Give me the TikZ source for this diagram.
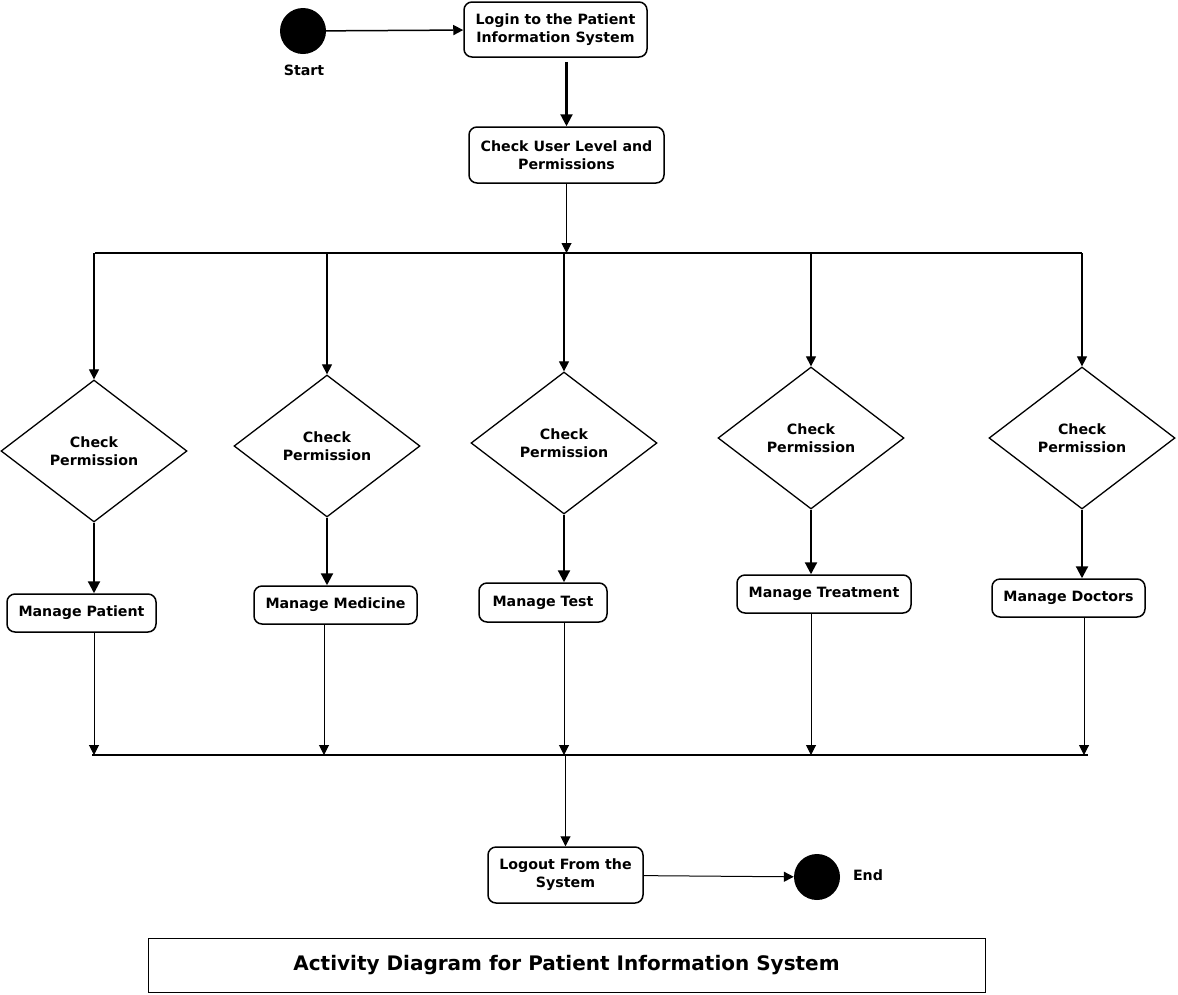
\documentclass[tikz,border=0pt]{standalone}
\usepackage{fontspec}
\setmainfont{DejaVu Sans}
\usetikzlibrary{shapes.geometric,arrows.meta}
\begin{document}
\begin{tikzpicture}[x=1pt,y=-1pt,
  every node/.style={font=\fontsize{14.2}{18}\selectfont\bfseries},
  act/.style={draw, rounded corners=8pt, line width=1.5pt, align=center, inner sep=0pt},
  dec/.style={draw, diamond, line width=1.3pt, align=center, inner sep=0pt,
    minimum width=186pt, minimum height=142pt},
  dot/.style={circle, fill=black, minimum size=46pt, inner sep=0pt},
  thinarr/.style={line width=1pt, -{Triangle[length=10pt,width=10pt]}},
  thickarr/.style={line width=2.2pt, -{Triangle[length=12pt,width=12pt]}},
  barline/.style={line width=2pt}
]
\useasboundingbox (0,0) rectangle (1178,994);
\fill[white] (0,0) rectangle (1178,994);

% start and first activities
\node[dot] (start) at (303,31) {};
\node (startlbl) at (304,70) {Start};
\node[act, minimum width=183pt, minimum height=55pt] (login) at (555.5,29.5) {Login to the Patient\\Information System};
\node[act, minimum width=195pt, minimum height=56pt] (check) at (566.5,155) {Check User Level and\\Permissions};

\draw[thinarr, line width=1.5pt] (start) -- (login);
\draw[thickarr] ([yshift=-4pt]check.north |- login.south) -- (check.north);

% fork bar
\coordinate (forkL) at (95,253);
\coordinate (forkR) at (1082,253);
\coordinate (forkC) at (566.5,253);
\draw[barline] (forkL) -- (forkR);
\draw[thinarr] (check) -- (forkC);

% decisions
\node[dec] (d1) at (94,451) {Check\\Permission};
\node[dec] (d2) at (327,446) {Check\\Permission};
\node[dec] (d3) at (564,443) {Check\\Permission};
\node[dec] (d4) at (811,438) {Check\\Permission};
\node[dec] (d5) at (1082,438) {Check\\Permission};

\foreach \d in {d1,d2,d3,d4,d5}{
  \draw[thinarr, line width=1.2pt] (\d.north |- forkL) -- (\d.north);
}

% manage activities
\node[act, minimum width=149pt, minimum height=38pt] (m1) at (81.5,613) {Manage Patient};
\node[act, minimum width=163pt, minimum height=38pt] (m2) at (335.5,605) {Manage Medicine};
\node[act, minimum width=128pt, minimum height=39pt] (m3) at (543,602.5) {Manage Test};
\node[act, minimum width=174pt, minimum height=38pt] (m4) at (824,594) {Manage Treatment};
\node[act, minimum width=153pt, minimum height=38pt] (m5) at (1068.5,598) {Manage Doctors};

\draw[thickarr] (d1.south) -- (d1.south |- m1.north);
\draw[thickarr] (d2.south) -- (d2.south |- m2.north);
\draw[thickarr] (d3.south) -- (d3.south |- m3.north);
\draw[thickarr] (d4.south) -- (d4.south |- m4.north);
\draw[thickarr] (d5.south) -- (d5.south |- m5.north);

% join bar
\coordinate (joinL) at (92,755);
\coordinate (joinR) at (1088,755);
\coordinate (joinC) at (565.5,755);
\coordinate (j1) at (94,755);
\coordinate (j2) at (324,755);
\coordinate (j3) at (564,755);
\coordinate (j4) at (811,755);
\coordinate (j5) at (1084,755);
\draw[barline] (joinL) -- (joinR);

\draw[thinarr] (j1 |- m1.south) -- (j1);
\draw[thinarr] (j2 |- m2.south) -- (j2);
\draw[thinarr] (j3 |- m3.south) -- (j3);
\draw[thinarr] (j4 |- m4.south) -- (j4);
\draw[thinarr] (j5 |- m5.south) -- (j5);

% logout and end
\node[act, minimum width=155pt, minimum height=56pt] (logout) at (565.5,875) {Logout From the\\System};
\draw[thinarr] (joinC) -- (logout);
\node[dot] (end) at (817,877) {};
\node (endlbl) at (868,875) {End};
\draw[thinarr] (logout) -- (end);

% title
\node[draw, line width=1pt, minimum width=837pt, minimum height=54pt, inner sep=0pt,
  font=\fontsize{20}{24}\selectfont\bfseries] (title) at (566.5,965)
  {Activity Diagram for Patient Information System};
\end{tikzpicture}
\end{document}
